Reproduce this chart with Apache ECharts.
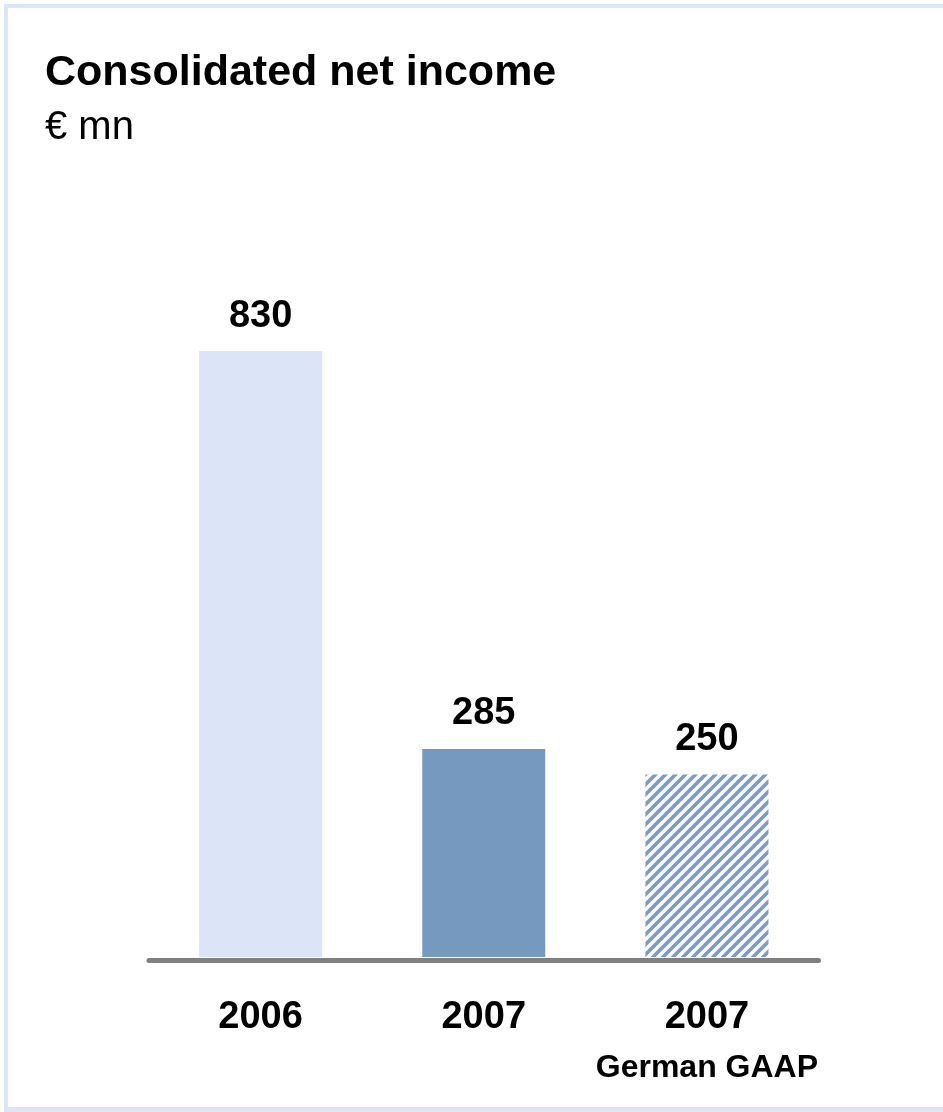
<!DOCTYPE html>
<html>
<head>
<meta charset="utf-8">
<script src="https://cdn.jsdelivr.net/npm/echarts@6/dist/echarts.min.js"></script>
<style>
  html, body { margin: 0; padding: 0; background: #ffffff; }
  #chart { width: 943px; height: 1112px; }
</style>
</head>
<body>
<div id="chart"></div>
<script>
// Consolidated net income, € mn
const categories = ['2006', '2007', '2007'];
const subLabels = ['', '', 'German GAAP'];
const values = [830, 285, 250];

const FONT = '"Liberation Sans", Arial, Helvetica, sans-serif';
const barColors = ['#dce5f8', '#7699bf'];
const stripeColor = '#7a9cc4';

// Diagonal stripe tile for the German GAAP bar
function stripePattern() {
  const s = 10;
  const c = document.createElement('canvas');
  c.width = s; c.height = s;
  const g = c.getContext('2d');
  g.fillStyle = '#ffffff';
  g.fillRect(0, 0, s, s);
  g.strokeStyle = stripeColor;
  g.lineWidth = 3.6;
  g.lineCap = 'square';
  g.beginPath();
  g.moveTo(-2, s + 2); g.lineTo(s + 2, -2);
  g.moveTo(-2, 2); g.lineTo(2, -2);
  g.moveTo(s - 2, s + 2); g.lineTo(s + 2, s - 2);
  g.stroke();
  return c;
}

const barData = values.map((v, i) => ({
  value: v,
  itemStyle: {
    color: i < 2 ? barColors[i] : { image: stripePattern(), repeat: 'repeat' }
  }
}));

const chart = echarts.init(document.getElementById('chart'), null, { renderer: 'canvas' });

chart.setOption({
  animation: false,
  backgroundColor: '#ffffff',
  textStyle: { fontFamily: FONT },
  graphic: [
    // light frame
    { type: 'rect', shape: { x: 4, y: 4, width: 939, height: 4 }, style: { fill: '#dde6f8' } },
    { type: 'rect', shape: { x: 4, y: 4, width: 4, height: 1104 }, style: { fill: '#dde6f8' } },
    { type: 'rect', shape: { x: 4, y: 1107, width: 939, height: 5 }, style: { fill: '#dde6f8' } },
    {
      type: 'text', left: 45, top: 52,
      style: { text: 'Consolidated net income', font: 'bold 43px ' + FONT, fill: '#000000' }
    },
    {
      type: 'text', left: 45, top: 108,
      style: { text: '€ mn', font: '40px ' + FONT, fill: '#000000' }
    }
  ],
  grid: { left: 149, right: 124.5, top: 227, bottom: 155 },
  xAxis: {
    type: 'category',
    data: categories,
    offset: 3,
    axisLine: { show: true, onZero: false, lineStyle: { color: '#808080', width: 5, cap: 'round' } },
    axisTick: { show: false },
    axisLabel: {
      interval: 0,
      margin: 33,
      formatter: (val, idx) => subLabels[idx] ? '{v|' + val + '}\n{s|' + subLabels[idx] + '}' : '{v|' + val + '}',
      rich: {
        v: { fontFamily: FONT, fontWeight: 'bold', fontSize: 38, lineHeight: 50, color: '#000000' },
        s: { fontFamily: FONT, fontWeight: 'bold', fontSize: 32, lineHeight: 51, color: '#000000' }
      }
    }
  },
  yAxis: {
    type: 'value',
    min: 0,
    max: 1000,
    show: false,
    splitLine: { show: false }
  },
  series: [{
    type: 'bar',
    data: barData,
    barWidth: 123,
    label: {
      show: true,
      position: 'top',
      distance: 16,
      fontFamily: FONT,
      fontWeight: 'bold',
      fontSize: 38,
      color: '#000000'
    }
  }]
});
</script>
</body>
</html>
